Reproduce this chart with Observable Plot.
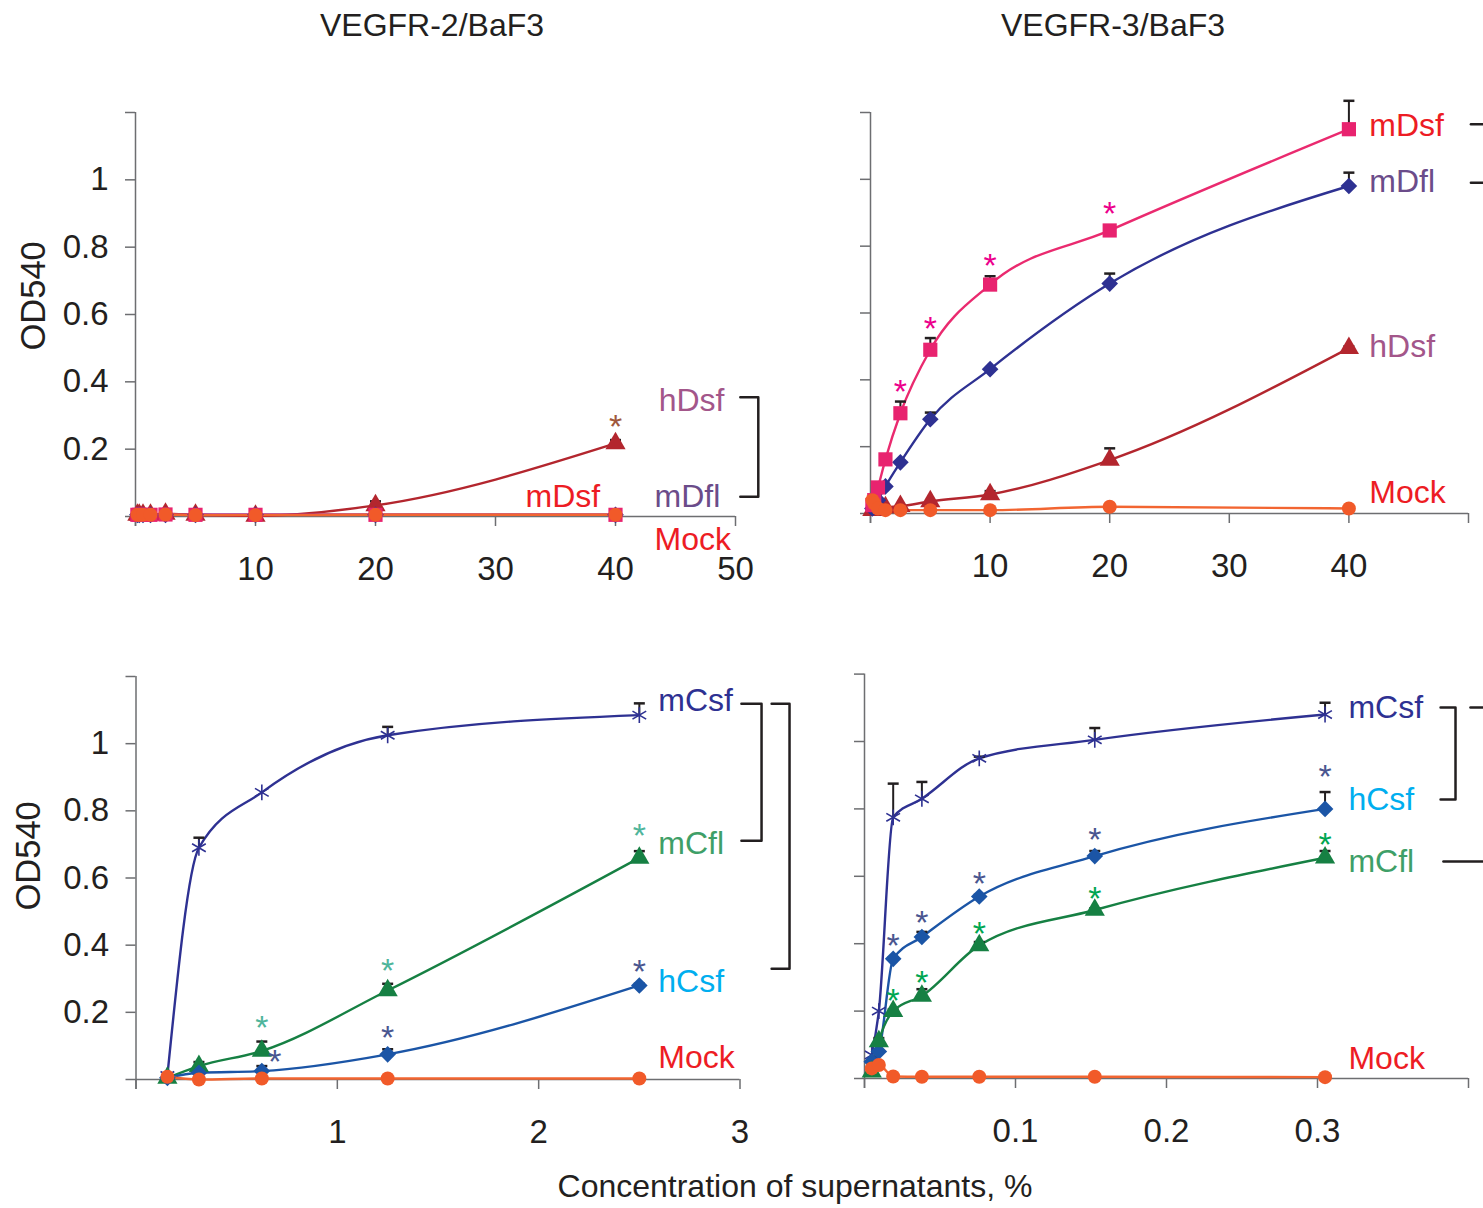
<!DOCTYPE html>
<html><head><meta charset="utf-8">
<script src="https://cdn.jsdelivr.net/npm/d3@7"></script>
<script src="https://cdn.jsdelivr.net/npm/@observablehq/plot@0.6"></script>
<style>
body{margin:0;background:#fff;font-family:"Liberation Sans",Arial,sans-serif;color:#231f20}
#root{position:relative;width:1483px;height:1208px;overflow:hidden;background:#fff}
.panel{position:absolute}
.title{position:absolute;font-size:32px;transform:translateX(-50%);white-space:nowrap;line-height:36px}
</style></head><body><div id="root">
<div class="title" style="left:432px;top:7px">VEGFR-2/BaF3</div>
<div class="title" style="left:1113px;top:7px">VEGFR-3/BaF3</div>
<div id="tl" class="panel" style="left:0;top:60px"></div>
<div id="tr" class="panel" style="left:800px;top:60px"></div>
<div id="bl" class="panel" style="left:0;top:620px"></div>
<div id="br" class="panel" style="left:800px;top:620px"></div>
<div class="title" style="left:795px;top:1168px">Concentration of supernatants, %</div>
</div>
<script>
// ---------- data ----------
const concD = [0.156, 0.3125, 0.625, 1.25, 2.5, 5, 10, 20, 40];
// VEGFR-2/BaF3, D constructs
const v2_hDsf = [0.005, 0.005, 0.005, 0.005, 0.008, 0.005, 0.002, 0.033, 0.217];
const v2_hDsf_err = [0, 0, 0, 0, 0, 0, 0, 0.012, 0.01];
const v2_mDfl = [0.005, 0.005, 0.005, 0.005, 0.005, 0.005, 0.005, 0.005, 0.005];
const v2_mDsf = [0.005, 0.005, 0.005, 0.005, 0.006, 0.005, 0.005, 0.005, 0.005];
const v2_mock = [0.005, 0.005, 0.005, 0.005, 0.006, 0.004, 0.004, 0.005, 0.005];
const v2_star_hDsf = [{x: 40, y: 0.282}];
// VEGFR-3/BaF3, D constructs
const v3_mDsf = [0.025, 0.04, 0.078, 0.162, 0.30, 0.49, 0.685, 0.847, 1.15];
const v3_mDsf_err = [0, 0, 0, 0.01, 0.035, 0.035, 0.025, 0.01, 0.085];
const v3_mDfl = [0.015, 0.02, 0.04, 0.081, 0.153, 0.282, 0.432, 0.688, 0.98];
const v3_mDfl_err = [0, 0, 0, 0, 0, 0.02, 0, 0.03, 0.04];
const v3_hDsf = [0.01, 0.012, 0.015, 0.018, 0.022, 0.036, 0.057, 0.16, 0.495];
const v3_hDsf_err = [0, 0, 0, 0, 0, 0, 0.01, 0.035, 0.005];
const v3_mock = [0.04, 0.03, 0.015, 0.01, 0.01, 0.01, 0.01, 0.02, 0.015];
const v3_star_mDsf = [{x: 2.5, y: 0.381}, {x: 5, y: 0.57}, {x: 10, y: 0.757}, {x: 20, y: 0.913}];

const concC2 = [0.156, 0.3125, 0.625, 1.25, 2.5];
// VEGFR-2/BaF3, C constructs
const v2_mCsf = [0.012, 0.69, 0.855, 1.025, 1.085];
const v2_mCsf_err = [0, 0.03, 0, 0.025, 0.035];
const v2_mCfl = [0.005, 0.04, 0.085, 0.265, 0.66];
const v2_mCfl_err = [0, 0.012, 0.028, 0.02, 0.02];
const v2_hCsf = [0.005, 0.02, 0.025, 0.075, 0.28];
const v2_hCsf_err = [0, 0, 0.015, 0.015, 0.005];
const v2_mockC = [0.008, 0.0, 0.003, 0.003, 0.003];
const v2_star_mCfl = [{x: 0.625, y: 0.17}, {x: 1.25, y: 0.342}, {x: 2.5, y: 0.744}];
const v2_star_hCsf = [{x: 0.69, y: 0.07}, {x: 1.25, y: 0.14}, {x: 2.5, y: 0.339}];

const concC3 = [0.0048, 0.0095, 0.019, 0.038, 0.076, 0.1525, 0.305];
// VEGFR-3/BaF3, C constructs
const v3_mCsf = [0.07, 0.2, 0.775, 0.83, 0.95, 1.005, 1.08];
const v3_mCsf_err = [0, 0, 0.1, 0.05, 0.005, 0.035, 0.035];
const v3_hCsf = [0.05, 0.08, 0.355, 0.42, 0.54, 0.66, 0.80];
const v3_hCsf_err = [0, 0, 0.005, 0.015, 0.005, 0.015, 0.05];
const v3_mCfl = [0.02, 0.11, 0.2, 0.245, 0.395, 0.5, 0.655];
const v3_mCfl_err = [0, 0.01, 0.005, 0.02, 0.01, 0.005, 0.02];
const v3_mockC = [0.03, 0.04, 0.006, 0.005, 0.005, 0.005, 0.004];
const v3_star_hCsf = [{x: 0.019, y: 0.41}, {x: 0.038, y: 0.48}, {x: 0.076, y: 0.596}, {x: 0.1525, y: 0.724}, {x: 0.305, y: 0.911}];
const v3_star_mCfl = [{x: 0.019, y: 0.246}, {x: 0.038, y: 0.30}, {x: 0.076, y: 0.445}, {x: 0.1525, y: 0.55}, {x: 0.305, y: 0.709}];

const yTicks = [0, 0.2, 0.4, 0.6, 0.8, 1, 1.2];

// ---------- styles ----------
const FONT = "Liberation Sans, Arial, sans-serif";
const INK = "#231f20";
const AX = "#6d6e71";
const sty = {
  mDsf: {line: "#ea2a6f", fill: "#e8236f", symbol: "square", r: 8, label: "#ed1c24"},
  mDfl: {line: "#2e3192", fill: "#2e3192", symbol: "diamond2", r: 7.5, label: "#6b4c8a"},
  hDsf: {line: "#b3262e", fill: "#b3262e", symbol: "triangle", r: 7.5, label: "#a3568a"},
  Mock: {line: "#f26531", fill: "#f15a29", symbol: "circle", r: 7, label: "#ed1c24"},
  mCsf: {line: "#2e3192", stroke: "#2e3192", symbol: "asterisk", r: 7.5, label: "#2e3192"},
  hCsf: {line: "#1b55a6", fill: "#1b55a6", symbol: "diamond2", r: 7.5, label: "#00aeef"},
  mCfl: {line: "#168043", fill: "#168043", symbol: "triangle", r: 7.5, label: "#3f9f68"}
};

const capSymbol = {draw(ctx) { ctx.moveTo(-5.5, 0); ctx.lineTo(5.5, 0); }};

function rows(name, xs, ys, errs) {
  return xs.map((x, i) => ({name, x, y: ys[i], err: errs ? errs[i] : 0}));
}

function panel({el, width, height, ml, mr, mt, mb, xDomain, xTicks, xFmt, yLabels, series, labels, stars, brackets, ylab}) {
  const marks = [
    Plot.ruleX([0], {y1: -0.03, y2: 1.2, stroke: AX, strokeWidth: 1.5}),
    Plot.ruleY([0], {x1: 0, x2: xDomain[1], stroke: AX, strokeWidth: 1.5}),
    Plot.axisX({ticks: xTicks, tickSize: 10, tickPadding: 30, tickFormat: xFmt, label: null, stroke: AX, fill: INK, fontSize: 33, strokeWidth: 1.5}),
    Plot.axisY({ticks: yTicks, tickSize: 10, tickPadding: 17, label: null, stroke: AX, fill: INK, fontSize: 33, strokeWidth: 1.5,
      tickFormat: d => (!yLabels || d === 0 || d > 1.1) ? "" : String(+d.toFixed(1))})
  ];
  for (const s of series) {
    const st = sty[s.name];
    marks.push(Plot.line(s.data, {x: "x", y: "y", stroke: st.line, strokeWidth: 2.4, curve: "monotone-x"}));
  }
  for (const s of series) {
    const st = sty[s.name];
    const e = s.data.filter(d => d.err > 0);
    marks.push(Plot.ruleX(e, {x: "x", y1: "y", y2: d => d.y + d.err, stroke: INK, strokeWidth: 2}));
    marks.push(Plot.dot(e, {x: "x", y: d => d.y + d.err, symbol: capSymbol, fill: "none", stroke: INK, strokeWidth: 2.5}));
    if (st.symbol === "asterisk") {
      marks.push(Plot.dot(s.data, {x: "x", y: "y", symbol: "asterisk", r: st.r, stroke: st.stroke, strokeWidth: 1.6, fill: "none"}));
    } else {
      marks.push(Plot.dot(s.data, {x: "x", y: "y", symbol: st.symbol, r: st.r, fill: st.fill, stroke: "none"}));
    }
  }
  for (const s of stars) {
    marks.push(Plot.text(s.data, {x: "x", y: "y", text: () => "*", fill: s.color, fontSize: 34, dy: 6}));
  }
  marks.push(Plot.text(labels, {x: "x", y: "y", text: "name", fill: d => sty[d.name].label, textAnchor: "start", fontSize: 32}));
  marks.push(Plot.line(brackets, {x: "x", y: "y", z: "id", stroke: INK, strokeWidth: 2.5}));
  if (ylab) marks.push(Plot.text(["OD540"], {frameAnchor: "left", dx: ylab.dx, dy: ylab.dy, rotate: -90, fontSize: 34.5, fill: INK}));
  const p = Plot.plot({
    width, height, marginLeft: ml, marginRight: mr, marginTop: mt, marginBottom: mb,
    x: {domain: xDomain, axis: null},
    y: {domain: [0, 1.2], axis: null},
    style: {fontFamily: FONT, fontSize: "33px", color: INK, background: "transparent", overflow: "visible"},
    marks
  });
  document.getElementById(el).appendChild(p);
}

function bracket(id, x1, x2, yTop, yBot) {
  return [{id, x: x1, y: yTop}, {id, x: x2, y: yTop}, {id, x: x2, y: yBot}, {id, x: x1, y: yBot}];
}
function dash(id, x1, x2, y) { return [{id, x: x1, y}, {id, x: x2, y}]; }

// top-left
panel({
  el: "tl", width: 800, height: 560, ml: 135, mr: 65, mt: 52, mb: 104,
  xDomain: [0, 50], xTicks: [0, 10, 20, 30, 40, 50], xFmt: d => d === 0 ? "" : d, yLabels: true,
  series: [
    {name: "hDsf", data: rows("hDsf", concD, v2_hDsf, v2_hDsf_err)},
    {name: "mDfl", data: rows("mDfl", concD, v2_mDfl)},
    {name: "mDsf", data: rows("mDsf", concD, v2_mDsf)},
    {name: "Mock", data: rows("Mock", concD, v2_mock)}
  ],
  stars: [{data: v2_star_hDsf, color: "#a0583c"}],
  labels: [{name: "hDsf", x: 43.6, y: 0.345}, {name: "mDsf", x: 32.5, y: 0.06}, {name: "mDfl", x: 43.25, y: 0.06}, {name: "Mock", x: 43.25, y: -0.068}],
  brackets: bracket("a", 50.4, 51.9, 0.354, 0.059),
  ylab: {dx: -102, dy: 36}
});

// top-right
panel({
  el: "tr", width: 683, height: 560, ml: 70, mr: 15, mt: 52, mb: 107,
  xDomain: [0, 50], xTicks: [0, 10, 20, 30, 40, 50], xFmt: d => (d === 0 || d === 50) ? "" : d, yLabels: false,
  series: [
    {name: "hDsf", data: rows("hDsf", concD, v3_hDsf, v3_hDsf_err)},
    {name: "mDfl", data: rows("mDfl", concD, v3_mDfl, v3_mDfl_err)},
    {name: "mDsf", data: rows("mDsf", concD, v3_mDsf, v3_mDsf_err)},
    {name: "Mock", data: rows("Mock", concD, v3_mock)}
  ],
  stars: [{data: v3_star_mDsf, color: "#ec008c"}],
  labels: [{name: "mDsf", x: 41.7, y: 1.159}, {name: "mDfl", x: 41.7, y: 0.994}, {name: "hDsf", x: 41.7, y: 0.498}, {name: "Mock", x: 41.7, y: 0.063}],
  brackets: [...dash("a", 50.2, 52, 1.165), ...dash("b", 50.2, 52, 0.99)]
});

// bottom-left
panel({
  el: "bl", width: 800, height: 540, ml: 135.5, mr: 60.5, mt: 56, mb: 81,
  xDomain: [0, 3], xTicks: [0, 1, 2, 3], xFmt: d => d === 0 ? "" : d, yLabels: true,
  series: [
    {name: "mCsf", data: rows("mCsf", concC2, v2_mCsf, v2_mCsf_err)},
    {name: "mCfl", data: rows("mCfl", concC2, v2_mCfl, v2_mCfl_err)},
    {name: "hCsf", data: rows("hCsf", concC2, v2_hCsf, v2_hCsf_err)},
    {name: "Mock", data: rows("Mock", concC2, v2_mockC)}
  ],
  stars: [{data: v2_star_mCfl, color: "#4fb59b"}, {data: v2_star_hCsf, color: "#4a5690"}],
  labels: [{name: "mCsf", x: 2.594, y: 1.128}, {name: "mCfl", x: 2.594, y: 0.702}, {name: "hCsf", x: 2.594, y: 0.292}, {name: "Mock", x: 2.594, y: 0.065}],
  brackets: [...bracket("a", 3.007, 3.107, 1.119, 0.711), ...bracket("b", 3.157, 3.246, 1.119, 0.330)],
  ylab: {dx: -107.5, dy: 32.5}
});

// bottom-right
panel({
  el: "br", width: 683, height: 540, ml: 64, mr: 15, mt: 53.6, mb: 82,
  xDomain: [0, 0.4], xTicks: [0, 0.1, 0.2, 0.3, 0.4], xFmt: d => (d === 0 || d === 0.4) ? "" : d, yLabels: false,
  series: [
    {name: "mCsf", data: rows("mCsf", concC3, v3_mCsf, v3_mCsf_err)},
    {name: "hCsf", data: rows("hCsf", concC3, v3_hCsf, v3_hCsf_err)},
    {name: "mCfl", data: rows("mCfl", concC3, v3_mCfl, v3_mCfl_err)},
    {name: "Mock", data: rows("Mock", concC3, v3_mockC)}
  ],
  stars: [{data: v3_star_hCsf, color: "#4a5690"}, {data: v3_star_mCfl, color: "#00a651"}],
  labels: [{name: "mCsf", x: 0.3205, y: 1.101}, {name: "hCsf", x: 0.3205, y: 0.828}, {name: "mCfl", x: 0.3205, y: 0.644}, {name: "Mock", x: 0.3205, y: 0.059}],
  brackets: [...bracket("a", 0.3815, 0.3914, 1.101, 0.828), ...dash("b", 0.4013, 0.42, 1.101), ...dash("c", 0.3834, 0.42, 0.644)]
});
</script>
</body></html>
